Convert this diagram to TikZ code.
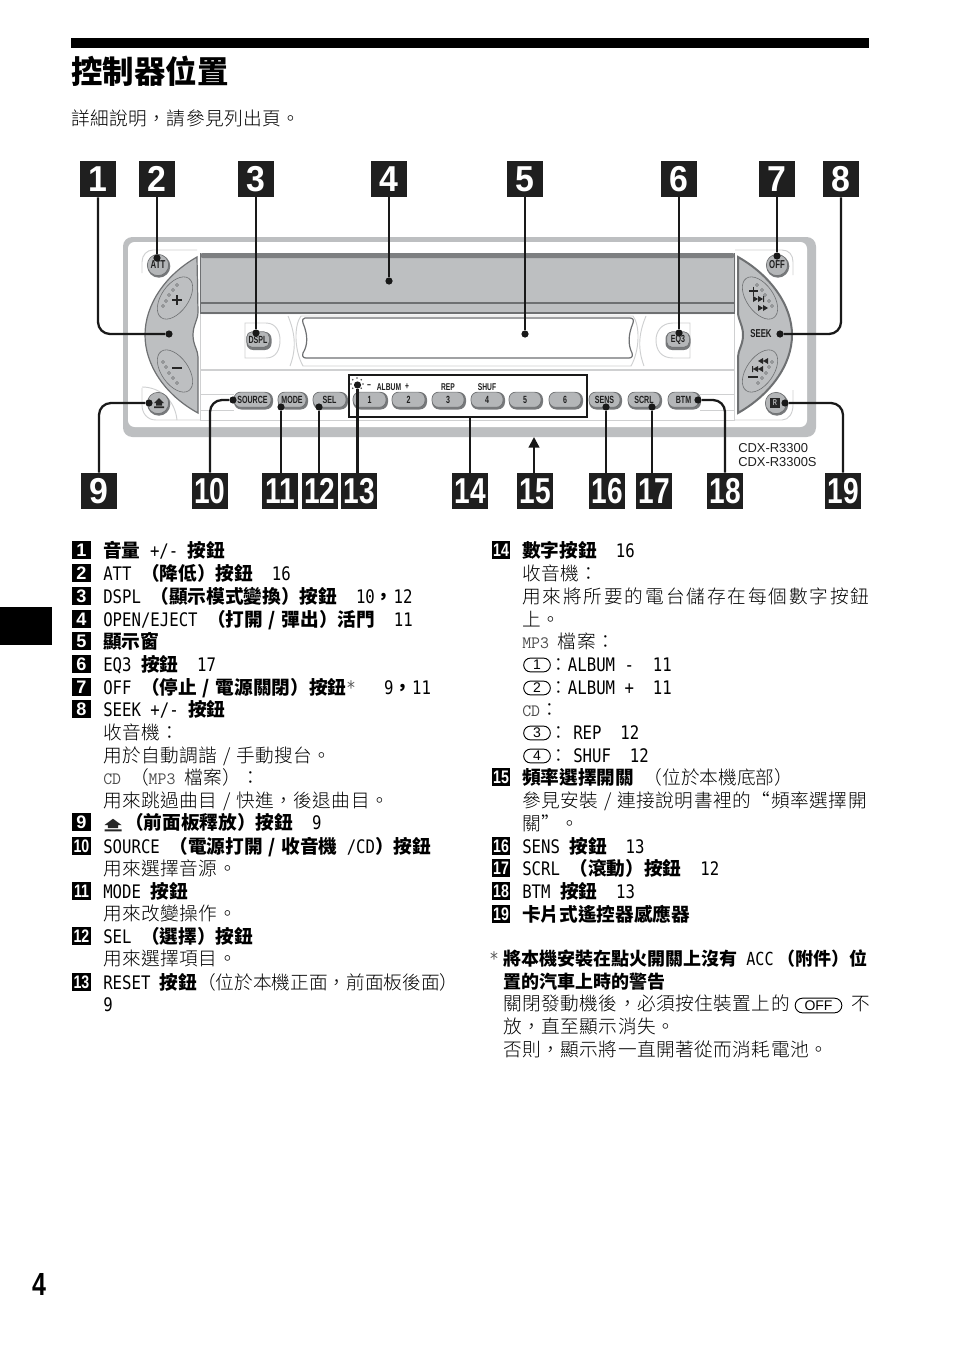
\documentclass[tikz,border=0pt]{standalone}
\usepackage{fontspec}
\usetikzlibrary{arrows.meta,shapes.geometric,shapes.misc,calc}
\newfontfamily\cjkn{Noto Sans CJK TC}
\newfontfamily\cjkl{Noto Sans CJK TC Light}
\newfontfamily\cjks[LetterSpace=2.5]{Noto Sans CJK TC Light}
\newfontfamily\cjkw[LetterSpace=10]{Noto Sans CJK TC Light}
\newfontfamily\cjkx[LetterSpace=3]{Noto Sans CJK TC Light}
\newfontfamily\mon[FakeStretch=.84]{DejaVu Sans Mono}
\newfontfamily\lsreg{Liberation Sans}
\newfontfamily\lsbig[FakeStretch=.94]{Liberation Sans Bold}
\newfontfamily\lsnar[FakeStretch=.78]{Liberation Sans}
\newfontfamily\pn[FakeStretch=.68]{Liberation Sans Bold}
\newcommand\B[1]{{\cjkn\bfseries #1}}
\newcommand\M[1]{{\mon #1}}
\newcommand\T[1]{{\ttfamily\color{black!70}\fontsize{13}{15}\selectfont #1}}
\newcommand\SL{\makebox[1em]{/}}
\definecolor{pg}{HTML}{BDBFC1}
\definecolor{bf}{HTML}{B4B6B8}
\definecolor{sh}{HTML}{77797B}
\definecolor{ed}{HTML}{6E7072}
\definecolor{lt}{HTML}{CFD0D1}
\definecolor{ink}{HTML}{1F1F1F}
\tikzset{
  ln/.style={anchor=base west,inner sep=0pt,font=\fontsize{14}{16}\selectfont\cjks},
  bigb/.style={fill=black!88,text=white,minimum size=27pt,inner sep=0pt},
  smallb/.style={fill=black,text=white,minimum size=13.8pt,inner sep=0pt},
  conn/.style={line width=1.7pt,rounded corners=9pt,black!90},
  dotn/.style={circle,fill=black!90,minimum size=5.4pt,inner sep=0pt},
  btn/.style={fill=bf,draw=ed,line width=.5pt,rounded corners=5pt,minimum height=11.4pt,inner sep=0pt,text=ink,font=\fontsize{7.8}{8}\selectfont\pn},
  rbtn/.style={circle,fill=bf,draw=ed,line width=.5pt,minimum size=16pt,inner sep=0pt,text=ink,font=\fontsize{8.6}{9}\selectfont\pn},
  shad/.style={fill=sh},
  thinl/.style={draw=lt,line width=.7pt},
  ovl/.style={draw=ed,line width=.45pt,fill=pg},
  pdot/.style={draw=ed,line width=.4pt,fill=pg},
  plab/.style={inner sep=0pt,text=ink,font=\fontsize{7.4}{8}\selectfont\pn},
  ovalk/.style={draw=black,rounded rectangle,line width=.7pt,inner sep=0pt,minimum height=10.4pt,minimum width=20pt,font=\fontsize{10.5}{11}\selectfont\lsreg},
}
\newcounter{lnc}
\newcommand\TL[3]{\stepcounter{lnc}\node[ln] (t\arabic{lnc}) at (#1,#2) {#3};}
\newcommand\SB[3]{\node[smallb,font=\fontsize{13.6}{14}\selectfont\lsreg\bfseries] (sb#1) at (#2,#3-7) {#1};}
\newcommand\SBB[3]{\node[smallb,font=\fontsize{13.6}{14}\selectfont\lsnar\bfseries] (sb#1) at (#2,#3-7) {#1};}
\newcommand\BG[3]{\node[bigb,font=\fontsize{27}{28}\selectfont\lsbig] (b#1) at (#2,#3) {#1};}
\newcommand\BGG[3]{\node[bigb,font=\fontsize{27}{28}\selectfont\lsnar\bfseries] (b#1) at (#2,#3) {#1};}
\newcommand\Btn[4]{\fill[shad,rounded corners=5.5pt] (#2,392) rectangle (#3,409.5);
  \node[btn,minimum width={(#3-#2-2)*.75pt}] (#1) at ({(#2+#3-2)/2},399.7) {#4};}
\newcommand\Rbtn[4]{\fill[shad] (#2+.8,#3+1.2) circle[radius=11.5];
  \node[rbtn] (#1) at (#2,#3) {#4};}
\newcommand\EjectIcon[4]{\fill[black!85,shift={(#1,#2)},xscale=#3,yscale=#4] (-5,0)--(0,-5)--(5,0)--(3,0)--(3,2.5)--(-3,2.5)--(-3,0)--cycle (-5,3.4) rectangle (5,5);}
\begin{document}
\begin{tikzpicture}[x=.75pt,y=-.75pt]
\useasboundingbox (0,0) rectangle (954,1352);
\fill[white] (0,0) rectangle (954,1352);
% header
\fill[black] (71,38) rectangle (869,48);
\node[ln,font=\fontsize{23.6}{26}\selectfont\cjkn\bfseries] (title) at (71,83.5) {控制器位置};
\TL{71}{126}{詳細說明，請參見列出頁。}
\fill[black] (0,607) rectangle (52,645);
\node[anchor=base,inner sep=0pt,font=\fontsize{24}{26}\selectfont\lsnar\bfseries] (pageno) at (39,1295) {4};
% panel
\fill[pg,rounded corners=7pt] (123,237) rectangle (816,437);
\fill[white,rounded corners=5pt] (128,242) rectangle (807,427);
% light inner lines
\draw[thinl] (200,314) -- (200,420) -- (734,420) -- (734,314);
\draw[thinl,line width=1.6pt] (200,370) -- (734,370);
\draw[thinl] (200,394) -- (234,394) (200,410) -- (234,410) (700,394) -- (734,394) (700,410) -- (734,410);
\draw[thinl] (142,273) -- (142,262) .. controls (142,255) and (147,250) .. (153,250) -- (197,250);
\draw[thinl] (735,250) -- (782,250) .. controls (789,250) and (793,255) .. (793,262) -- (793,275);
\draw[thinl] (142,388) -- (142,405) .. controls (142,413) and (147,420) .. (156,420) -- (200,420);
\draw[thinl] (142,387) .. controls (160,387) and (175,400) .. (177,420);
\draw[thinl] (734,420) -- (782,420) .. controls (789,420) and (793,413) .. (793,405) -- (793,390);
% flap
\fill[pg,rounded corners=2pt] (200,253) rectangle (735,314);
\fill[ed,opacity=.8,rounded corners=2pt] (200,253) rectangle (735,258);
\draw[ed,line width=.9pt] (200,303) -- (735,303);
\draw[ed,line width=1.8pt] (200,313.2) -- (735,313.2);
\draw[ed,line width=1pt] (200.4,253) -- (200.4,314) (734.6,253) -- (734.6,314);
% display
\draw[thinl] (288,316) .. controls (296,335) and (296,350) .. (290,366);
\draw[thinl] (646,316) .. controls (638,335) and (638,350) .. (644,366);
\draw[thinl] (301,316) -- (633,316) .. controls (640,325) and (640,350) .. (631,366) -- (303,366) .. controls (294,350) and (294,325) .. (301,316) -- cycle;
\draw[ed,line width=.9pt] (305,318) -- (630,318) .. controls (633,318) and (634,320) .. (633,323) .. controls (628,335) and (628,345) .. (632,353) .. controls (633,356) and (632,358) .. (629,358) -- (306,358) .. controls (303,358) and (302,356) .. (303,353) .. controls (308,345) and (308,335) .. (303,323) .. controls (302,320) and (303,318) .. (305,318) -- cycle;
% DSPL, EQ3 halos
\draw[thinl] (245,323) -- (266,323) .. controls (276,323) and (280,332) .. (280,340) .. controls (280,350) and (276,358) .. (266,358) -- (245,358) -- cycle;
\draw[thinl] (690,323) -- (673,323) .. controls (661,323) and (656,332) .. (656,340) .. controls (656,350) and (661,358) .. (673,358) -- (690,358) -- cycle;
\fill[shad,rounded corners=5pt] (246.5,332) rectangle (271.5,350);
\node[btn,minimum width=17pt,minimum height=11.6pt,rounded corners=4pt] (dspl) at (258,339.5) {DSPL};
\fill[shad,rounded corners=5pt] (665.5,332) rectangle (690.5,350);
\node[btn,minimum width=17pt,minimum height=11.6pt,rounded corners=4pt] (eq3) at (678,339.5) {EQ3};
% left knob
\path[fill=pg,draw=ed,line width=.9pt] (197,257) .. controls (165,275) and (145,305) .. (145,335) .. controls (145,365) and (165,395) .. (198,413) -- (198,357) .. controls (198,350) and (193,345) .. (193,335) .. controls (193,325) and (198,320) .. (198,312) -- cycle;
\draw[ovl] (175,298) ellipse[x radius=24,y radius=13.5,rotate=55];
\draw[ovl] (175,371) ellipse[x radius=24,y radius=13.5,rotate=-55];
\foreach \p in {(163,306),(166,301),(169,295),(173,290),(177,285),(163,362),(166,367),(169,373),(173,378),(177,383)} \draw[pdot] \p circle[radius=1.4];
\draw[black!85,line width=1.3pt] (172,300) -- (182,300) (177,295) -- (177,305) (172,368) -- (182,368);
% right knob
\path[fill=pg,draw=ed,line width=1.5pt] (738,257) .. controls (770,275) and (792,305) .. (792,335) .. controls (792,365) and (770,395) .. (738,413) -- (738,357) .. controls (738,350) and (743,345) .. (743,335) .. controls (743,325) and (738,320) .. (738,312) -- cycle;
\draw[ovl] (760,298) ellipse[x radius=24,y radius=13.5,rotate=-55];
\draw[ovl] (760,371) ellipse[x radius=24,y radius=13.5,rotate=55];
\foreach \p in {(757,285),(762,290),(765,295),(769,301),(772,306),(772,362),(769,367),(766,373),(762,378),(758,383)} \draw[pdot] \p circle[radius=1.4];
\draw[black!85,line width=1.2pt] (749,291) -- (758,291) (753.5,286.5) -- (753.5,295.5) (748,377) -- (758,377);
\fill[black!85] (753,296)--(758,299)--(753,302)--cycle (758,296)--(763,299)--(758,302)--cycle (763,296) rectangle (764,302);
\fill[black!85] (758,305)--(763,308)--(758,311)--cycle (763,305)--(768,308)--(763,311)--cycle;
\fill[black!85] (768,358)--(763,361)--(768,364)--cycle (763,358)--(758,361)--(763,364)--cycle;
\fill[black!85] (763,366)--(758,369)--(763,372)--cycle (758,366)--(753,369)--(758,372)--cycle (752,366) rectangle (753,372);
\node[plab,font=\fontsize{8.6}{9}\selectfont\pn] (seek) at (761,334) {SEEK};
% round buttons
\Rbtn{att}{158}{265}{ATT}
\Rbtn{off}{777}{265}{OFF}
\Rbtn{ejb}{158}{403}{}
\EjectIcon{159}{403}{1}{1}
\Rbtn{rcv}{776}{403}{}
\node[fill=black!85,text=bf,minimum size=7pt,inner sep=0pt,font=\fontsize{6.4}{7}\selectfont\pn] (rsq) at (775,403) {R};
% row buttons
\Btn{bsource}{234}{273}{SOURCE}
\Btn{bmode}{278}{308}{MODE}
\Btn{bsel}{313}{348}{SEL}
\Btn{bn1}{353}{388}{1}
\Btn{bn2}{392}{427}{2}
\Btn{bn3}{432}{466}{3}
\Btn{bn4}{471}{505}{4}
\Btn{bn5}{509}{543}{5}
\Btn{bn6}{549}{583}{6}
\Btn{bsens}{589}{622}{SENS}
\Btn{bscrl}{628}{662}{SCRL}
\Btn{bbtm}{668}{701}{BTM}
\node[draw=black!90,line width=1.6pt,minimum width=178.5pt,minimum height=31.5pt,inner sep=0pt] (box14) at (468,396) {};
\node[plab] (lminus) at (369,387) {−};
\node[plab] (lalbum) at (389,387) {ALBUM};
\node[plab] (lplus) at (407,387) {+};
\node[plab] (lrep) at (448,387) {REP};
\node[plab] (lshuf) at (487,387) {SHUF};
\foreach \a in {0,45,...,315} \fill[black!70] ($(357,384)+(\a:6)$) circle[radius=.8];
% model
\node[ln,font=\fontsize{9.7}{11}\selectfont\lsreg,text=ink] (m1) at (738,452) {CDX-R3300};
\node[ln,font=\fontsize{9.7}{11}\selectfont\lsreg,text=ink] (m2) at (738,466) {CDX-R3300S};
% big badges
\BG{1}{98}{179}\BG{2}{157}{179}\BG{3}{256}{179}\BG{4}{389}{179}\BG{5}{525}{179}\BG{6}{679}{179}\BG{7}{777}{179}\BG{8}{841}{179}
\BG{9}{99}{491}\BGG{10}{210}{491}\BGG{11}{280}{491}\BGG{12}{320}{491}\BGG{13}{359}{491}\BGG{14}{470}{491}\BGG{15}{535}{491}\BGG{16}{607}{491}\BGG{17}{654}{491}\BGG{18}{725}{491}\BGG{19}{843}{491}
% dots
\node[dotn] (d1) at (169,334) {};
\node[dotn] (d2) at (157,258) {};
\node[dotn] (d3) at (256,333) {};
\node[dotn] (d4) at (389,281) {};
\node[dotn] (d5) at (525,334) {};
\node[dotn] (d6) at (679,333) {};
\node[dotn] (d7) at (777,256) {};
\node[dotn] (d8) at (780,334) {};
\node[dotn] (d9) at (149,403) {};
\node[dotn] (d10) at (233,400) {};
\node[dotn] (d11) at (281,407) {};
\node[dotn] (d12) at (319,407) {};
\node[dotn] (d13) at (357.5,385) {};
\node[dotn] (d16) at (606,407) {};
\node[dotn] (d17) at (652,407) {};
\node[dotn] (d18) at (698,400) {};
\node[dotn] (d19) at (785,403) {};
\coordinate (a15) at (534,437);
% connectors
\draw[conn] (b1.south) |- (d1);
\draw[conn] (b8.south) |- (d8);
\draw[conn] (b9.north) |- (d9);
\draw[conn] (b10.north) |- (d10);
\draw[conn] (b18.north) |- (d18);
\draw[conn] (b19.north) |- (d19);
\draw[conn] (d2 |- b2.south) -- (d2);
\draw[conn] (d3 |- b3.south) -- (d3);
\draw[conn] (d4 |- b4.south) -- (d4);
\draw[conn] (d5 |- b5.south) -- (d5);
\draw[conn] (d6 |- b6.south) -- (d6);
\draw[conn] (d7 |- b7.south) -- (d7);
\draw[conn] (d11 |- b11.north) -- (d11);
\draw[conn] (d12 |- b12.north) -- (d12);
\draw[conn] (d13 |- b13.north) -- (d13);
\draw[conn] (b14.north) -- (b14.north |- box14.south);
\draw[conn,-{Triangle[length=8pt,width=8pt]}] (a15 |- b15.north) -- (a15);
\draw[conn] (d16 |- b16.north) -- (d16);
\draw[conn] (d17 |- b17.north) -- (d17);
% left column
\SB{1}{81.5}{557}\SB{2}{81.5}{580}\SB{3}{81.5}{603}\SB{4}{81.5}{626}\SB{5}{81.5}{648}\SB{6}{81.5}{671}\SB{7}{81.5}{694}\SB{8}{81.5}{716}\SB{9}{81.5}{829}
\SBB{10}{81.5}{853}\SBB{11}{81.5}{898}\SBB{12}{81.5}{943}\SBB{13}{81.5}{989}
\TL{103}{557}{\B{音量}\M{ +/- }\B{按鈕}}
\TL{103}{580}{\M{ATT }\B{（降低）按鈕}\M{~~16}}
\TL{103}{603}{\M{DSPL }\B{（顯示模式變換）按鈕}\M{~~10}\B{，}\M{12}}
\TL{103}{626}{\M{OPEN/EJECT }\B{（打開\SL 彈出）活門}\M{~~11}}
\TL{103}{648}{\B{顯示窗}}
\TL{103}{671}{\M{EQ3 }\B{按鈕}\M{~~17}}
\TL{103}{694}{\M{OFF }\B{（停止\SL 電源關閉）按鈕}\M{\textcolor{black!65}{*}~~~9}\B{，}\M{11}}
\TL{103}{716}{\M{SEEK +/- }\B{按鈕}}
\TL{103}{739}{收音機：}
\TL{103}{762}{用於自動調諧\SL 手動搜台。}
\TL{103}{784}{\T{CD }（\T{MP3 }檔案）：}
\TL{103}{807}{用來跳過曲目\SL 快進，後退曲目。}
\EjectIcon{113}{825}{1.7}{1.25}
\TL{125}{829}{\B{（前面板釋放）按鈕}\M{~~9}}
\TL{103}{853}{\M{SOURCE }\B{（電源打開\SL 收音機}\M{ /CD}\B{）按鈕}}
\TL{103}{875}{用來選擇音源。}
\TL{103}{898}{\M{MODE }\B{按鈕}}
\TL{103}{920}{用來改變操作。}
\TL{103}{943}{\M{SEL }\B{（選擇）按鈕}}
\TL{103}{965}{用來選擇項目。}
\TL{103}{989}{\M{RESET }\B{按鈕}{\cjkl （位於本機正面，前面板後面）}}
\TL{103}{1011}{\M{9}}
% right column
\SBB{14}{501}{557}\SBB{15}{501}{784}\SBB{16}{501}{853}\SBB{17}{501}{875}\SBB{18}{501}{898}\SBB{19}{501}{921}
\TL{522}{557}{\B{數字按鈕}\M{~~16}}
\TL{522}{580}{收音機：}
\TL{522}{603}{{\cjkw 用來將所要的電台儲存在每個數字按鈕}}
\TL{522}{626}{上。}
\TL{522}{648}{\T{MP3 }檔案：}
\node[ovalk] (o1) at (537,665) {1};
\TL{549}{671}{：\M{ALBUM -~~11}}
\node[ovalk] (o2) at (537,688) {2};
\TL{549}{694}{：\M{ALBUM +~~11}}
\TL{522}{716}{\T{CD}：}
\node[ovalk] (o3) at (537,733) {3};
\TL{549}{739}{：\hspace{4pt}\M{REP~~12}}
\node[ovalk] (o4) at (537,756) {4};
\TL{549}{762}{：\hspace{4pt}\M{SHUF~~12}}
\TL{522}{784}{\B{頻率選擇開關}\M{~}{\cjkl （位於本機底部）}}
\TL{522}{807}{{\cjkx 參見安裝\SL 連接說明書裡的“頻率選擇開}}
\TL{522}{830}{關”。}
\TL{522}{853}{\M{SENS }\B{按鈕}\M{~~13}}
\TL{522}{875}{\M{SCRL }\B{（滾動）按鈕}\M{~~12}}
\TL{522}{898}{\M{BTM }\B{按鈕}\M{~~13}}
\TL{522}{921}{\B{卡片式遙控器感應器}}
% footnote
\TL{489}{965}{\textcolor{black!65}{\M{*}}}
\TL{503}{965}{\fontsize{13.5}{15}\selectfont\B{將本機安裝在點火開關上沒有}\M{ ACC}\hspace{3pt}\B{（附件）位}}
\TL{503}{988}{\fontsize{13.5}{15}\selectfont\B{置的汽車上時的警告}}
\TL{503}{1010}{關閉發動機後，必須按住裝置上的}
\node[draw=black,rounded rectangle,line width=.7pt,inner sep=0pt,minimum height=11pt,minimum width=35pt,font=\fontsize{10.5}{11}\selectfont\lsreg] (offk) at (818.5,1005.5) {OFF};
\TL{851}{1010}{不}
\TL{503}{1033}{放，直至顯示消失。}
\TL{503}{1056}{否則，顯示將一直開著從而消耗電池。}
\end{tikzpicture}
\end{document}
